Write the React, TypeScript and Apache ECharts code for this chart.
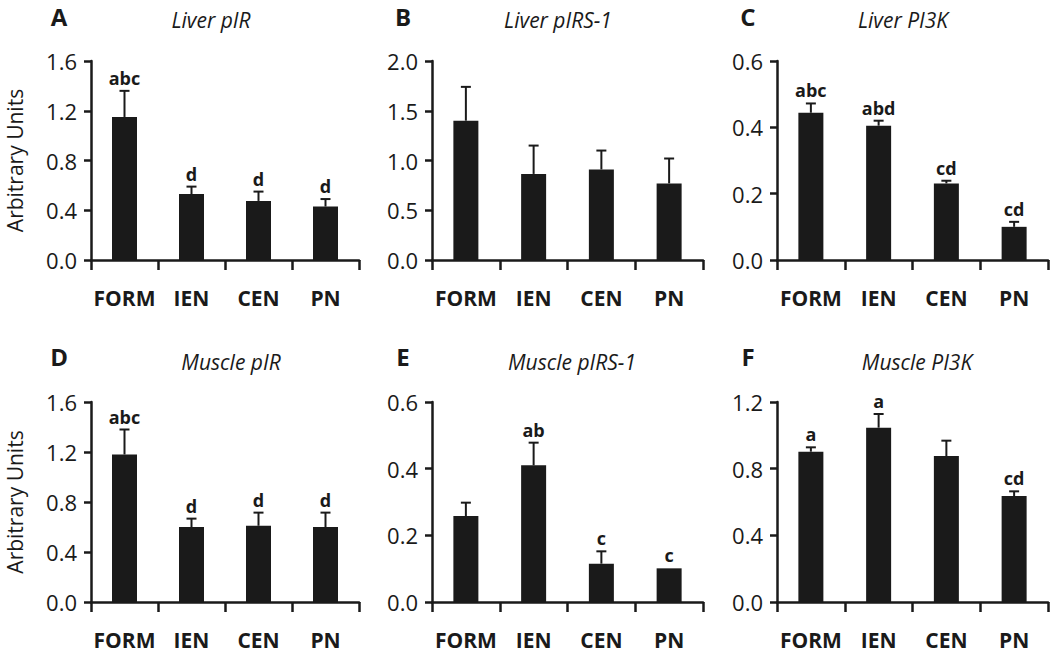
import React, { useEffect, useRef } from 'react';
import * as echarts from 'echarts';

const categories = ['FORM', 'IEN', 'CEN', 'PN'];

const panelLetters = ['A', 'B', 'C', 'D', 'E', 'F'];
const panelTitles = ['Liver pIR', 'Liver pIRS-1', 'Liver PI3K', 'Muscle pIR', 'Muscle pIRS-1', 'Muscle PI3K'];
const yMaxes = [1.6, 2.0, 0.6, 1.6, 0.6, 1.2];
const yIntervals = [0.4, 0.5, 0.2, 0.4, 0.2, 0.4];

// means, upper error-bar ends, significance letters
const liverPIR = [1.15, 0.53, 0.475, 0.43];
const liverPIRTop = [1.36, 0.59, 0.55, 0.49];
const liverPIRSig = ['abc', 'd', 'd', 'd'];

const liverPIRS1 = [1.4, 0.865, 0.91, 0.77];
const liverPIRS1Top = [1.74, 1.15, 1.1, 1.02];
const liverPIRS1Sig = ['', '', '', ''];

const liverPI3K = [0.444, 0.405, 0.231, 0.1];
const liverPI3KTop = [0.472, 0.42, 0.239, 0.115];
const liverPI3KSig = ['abc', 'abd', 'cd', 'cd'];

const musclePIR = [1.18, 0.6, 0.61, 0.6];
const musclePIRTop = [1.38, 0.667, 0.715, 0.715];
const musclePIRSig = ['abc', 'd', 'd', 'd'];

const musclePIRS1 = [0.258, 0.41, 0.115, 0.101];
const musclePIRS1Top = [0.298, 0.478, 0.152, 0.101];
const musclePIRS1Sig = ['', 'ab', 'c', 'c'];

const musclePI3K = [0.902, 1.046, 0.876, 0.636];
const musclePI3KTop = [0.928, 1.128, 0.968, 0.664];
const musclePI3KSig = ['a', 'a', '', 'cd'];

const panelMeans = [liverPIR, liverPIRS1, liverPI3K, musclePIR, musclePIRS1, musclePI3K];
const panelTops = [liverPIRTop, liverPIRS1Top, liverPI3KTop, musclePIRTop, musclePIRS1Top, musclePI3KTop];
const panelSigs = [liverPIRSig, liverPIRS1Sig, liverPI3KSig, musclePIRSig, musclePIRS1Sig, musclePI3KSig];

const INK = '#1a1a1a';
const FONT = '"Open Sans", "Noto Sans", sans-serif';

const gridLefts = [91, 432, 777];
const gridWidths = [268, 271, 271];
const gridTops = [61, 402];
const gridHeights = [199, 200];
const titleX = [211, 558, 903, 231, 572, 917];
const titleY = [20, 362];
const letterX = [59, 403, 748];
const letterY = [16, 356];

export default function App() {
  const ref = useRef<HTMLDivElement>(null);

  useEffect(() => {
    document.body.style.margin = '0';
    if (!ref.current) return;
    const chart = echarts.init(ref.current, null, { renderer: 'svg' });

    const grids: any[] = [];
    const xAxes: any[] = [];
    const yAxes: any[] = [];
    const series: any[] = [];
    const graphics: any[] = [];

    for (let p = 0; p < 6; p++) {
      const row = Math.floor(p / 3);
      const col = p % 3;
      grids.push({
        left: gridLefts[col],
        width: gridWidths[col],
        top: gridTops[row],
        height: gridHeights[row],
        containLabel: false,
      });
      xAxes.push({
        type: 'category',
        gridIndex: p,
        data: categories,
        boundaryGap: true,
        axisLine: { show: true, lineStyle: { color: INK, width: 2.5 } },
        axisTick: { show: true, length: 10, lineStyle: { color: INK, width: 2.5 } },
        axisLabel: {
          color: INK,
          fontFamily: FONT,
          fontWeight: 'bold',
          fontSize: 21,
          margin: 27,
          interval: 0,
        },
        splitLine: { show: false },
      });
      const yAxis: any = {
        type: 'value',
        gridIndex: p,
        min: 0,
        max: yMaxes[p],
        interval: yIntervals[p],
        axisLine: { show: true, lineStyle: { color: INK, width: 2.5 } },
        axisTick: { show: true, length: 7, lineStyle: { color: INK, width: 2.5 } },
        axisLabel: {
          color: INK,
          fontFamily: FONT,
          fontSize: 22,
          margin: 14,
          formatter: (v: number) => v.toFixed(1),
        },
        splitLine: { show: false },
      };
      if (col === 0) {
        yAxis.name = 'Arbitrary Units';
        yAxis.nameLocation = 'middle';
        yAxis.nameGap = 66;
        yAxis.nameTextStyle = { color: INK, fontFamily: FONT, fontSize: 21 };
      }
      yAxes.push(yAxis);

      series.push({
        type: 'bar',
        xAxisIndex: p,
        yAxisIndex: p,
        data: panelMeans[p],
        barWidth: 25,
        itemStyle: { color: INK },
        silent: true,
      });

      const sigs = panelSigs[p];
      series.push({
        type: 'custom',
        xAxisIndex: p,
        yAxisIndex: p,
        data: categories.map((_, i) => [i, panelMeans[p][i], panelTops[p][i]]),
        encode: { x: 0, y: [1, 2] },
        z: 5,
        silent: true,
        renderItem: (params: any, api: any) => {
          const i = api.value(0);
          const mean = api.value(1);
          const top = api.value(2);
          const p0 = api.coord([i, mean]);
          const p1 = api.coord([i, top]);
          const children: any[] = [];
          if (top > mean) {
            children.push({
              type: 'line',
              shape: { x1: p0[0], y1: p0[1], x2: p1[0], y2: p1[1] },
              style: { stroke: INK, lineWidth: 2 },
            });
            children.push({
              type: 'line',
              shape: { x1: p1[0] - 5, y1: p1[1], x2: p1[0] + 5, y2: p1[1] },
              style: { stroke: INK, lineWidth: 2 },
            });
          }
          const sig = sigs[params.dataIndex];
          if (sig) {
            children.push({
              type: 'text',
              x: p1[0],
              y: p1[1] - 4,
              style: {
                text: sig,
                fill: INK,
                fontFamily: FONT,
                fontWeight: 'bold',
                fontSize: 18,
                align: 'center',
                verticalAlign: 'bottom',
              },
            });
          }
          return { type: 'group', children };
        },
      });

      graphics.push({
        type: 'text',
        x: titleX[p],
        y: titleY[row],
        style: {
          text: panelTitles[p],
          fill: INK,
          fontFamily: FONT,
          fontStyle: 'italic',
          fontSize: 21,
          align: 'center',
          verticalAlign: 'middle',
        },
      });
      graphics.push({
        type: 'text',
        x: letterX[col],
        y: letterY[row],
        style: {
          text: panelLetters[p],
          fill: INK,
          fontFamily: FONT,
          fontWeight: 'bold',
          fontSize: 24,
          align: 'center',
          verticalAlign: 'middle',
        },
      });
    }

    chart.setOption({
      animation: false,
      backgroundColor: '#ffffff',
      grid: grids,
      xAxis: xAxes,
      yAxis: yAxes,
      series,
      graphic: graphics,
    });

    return () => chart.dispose();
  }, []);

  return <div ref={ref} style={{ width: 1050, height: 652 }} />;
}
